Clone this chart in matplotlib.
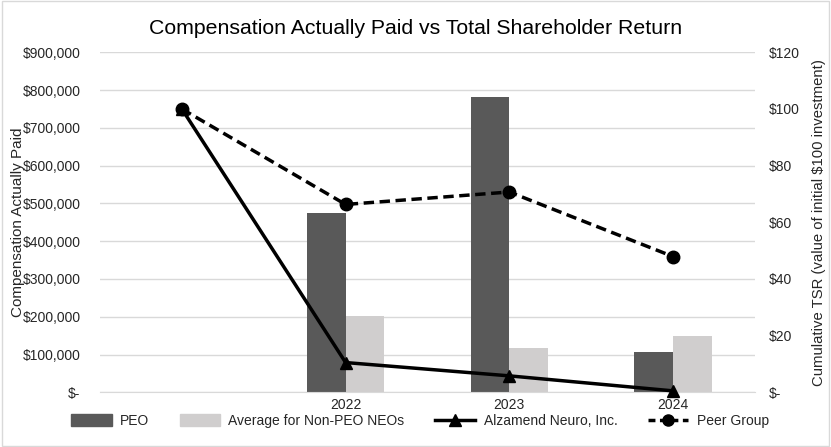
import matplotlib
matplotlib.use("Agg")
import matplotlib.pyplot as plt
import numpy as np
from matplotlib.patches import Rectangle
from matplotlib.lines import Line2D

plt.rcParams['font.family'] = ['Liberation Sans', 'DejaVu Sans']

categories = ["", "2022", "2023", "2024"]
peo = [np.nan, 475000, 782000, 107000]
non_peo = [np.nan, 201000, 117000, 150000]
alzamend_tsr = [100, 10.5, 5.8, 0.5]
peer_tsr = [100, 66.3, 70.7, 47.9]

left_ticks = [0, 100000, 200000, 300000, 400000, 500000, 600000, 700000, 800000, 900000]
right_ticks = [0, 20, 40, 60, 80, 100, 120]

fig = plt.figure(figsize=(8.31, 4.47), dpi=100)
ax = fig.add_axes([100/831, 1-392.3/447, 655/831, 340/447])
ax2 = ax.twinx()

x = np.arange(len(categories))
w = 0.236
ax.bar(x - w/2, peo, w, color='#595959', zorder=2, label='PEO')
ax.bar(x + w/2, non_peo, w, color='#d0cece', zorder=2, label='Average for Non-PEO NEOs')
ax.set_xlim(-0.5, len(categories) - 0.5)
ax.set_ylim(0, 900000)
ax.set_yticks(left_ticks)
ax.set_yticklabels(["$-" if v == 0 else f"${v:,.0f}" for v in left_ticks])
ax.set_xticks(x)
ax.set_xticklabels(categories)
ax.grid(axis='y', color='#d9d9d9', lw=1, zorder=0)
ax.set_axisbelow(True)
for s in ax.spines.values():
    s.set_visible(False)
for s in ax2.spines.values():
    s.set_visible(False)
ax.spines['bottom'].set_visible(True)
ax.spines['bottom'].set_color('#d9d9d9')
ax.tick_params(axis='both', length=0, labelsize=10, colors='#404040')
ax.tick_params(axis='y', pad=14)
ax.tick_params(axis='x', pad=4)
for t in ax.get_yticklabels() + ax.get_xticklabels():
    t.set_color('#262626')
ax.set_ylabel("Compensation Actually Paid", fontsize=11, color='#262626', labelpad=-1.5)

ax2.plot(x, alzamend_tsr, color='black', lw=2.5, marker='^', ms=9, zorder=4, clip_on=False,
         label='Alzamend Neuro, Inc.')
ax2.plot(x, peer_tsr, color='black', lw=2.5, ls=(0, (3, 1.6)), marker='o', ms=9, zorder=4,
         clip_on=False, label='Peer Group')
ax2.set_ylim(0, 120)
ax2.set_yticks(right_ticks)
ax2.set_yticklabels(["$-" if v == 0 else f"${v}" for v in right_ticks])
ax2.tick_params(axis='y', length=0, labelsize=10, pad=10)
for t in ax2.get_yticklabels():
    t.set_color('#262626')
ax2.set_ylabel("Cumulative TSR (value of initial $100 investment)", fontsize=10.7, color='#262626',
               labelpad=9)

fig.suptitle("Compensation Actually Paid vs Total Shareholder Return", fontsize=15.3,
             y=1-28/447, va='center', color='black')

handles = [Rectangle((0, 0), 1, 1, color='#595959'),
           Rectangle((0, 0), 1, 1, color='#d0cece'),
           Line2D([], [], color='black', lw=2.5, marker='^', ms=8),
           Line2D([], [], color='black', lw=2.5, ls=(0, (2, 1.3)), marker='o', ms=8)]
labels = ['PEO', 'Average for Non-PEO NEOs', 'Alzamend Neuro, Inc.', 'Peer Group']
leg = fig.legend(handles, labels, loc='center', bbox_to_anchor=(420/831, 1-421/447), ncol=4,
                 frameon=False, fontsize=10, handlelength=2.9, handleheight=0.9,
                 columnspacing=2.2, handletextpad=0.6, borderpad=0)
for t in leg.get_texts():
    t.set_color('#262626')

fig.patches.append(Rectangle((0.002, 0.002), 0.996, 0.996, transform=fig.transFigure,
                             fill=False, edgecolor='#d9d9d9', lw=1))

fig.savefig("out.png", dpi=100)
